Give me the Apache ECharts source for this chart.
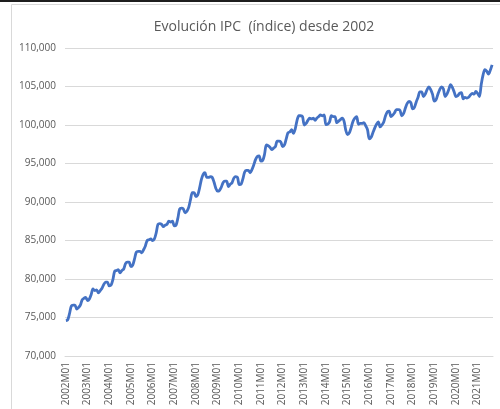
<!DOCTYPE html>
<html>
<head>
<meta charset="utf-8">
<title>Evolución IPC</title>
<script src="https://cdn.jsdelivr.net/npm/echarts@6/dist/echarts.min.js"></script>
<style>
  html, body { margin: 0; padding: 0; background: #fff; }
  #chart { width: 500px; height: 409px; }
</style>
</head>
<body>
<div id="chart"></div>
<script>
// IPC mensual (índice), un array por año
const ipc2002 = [74.6, 74.7, 75.5, 76.5, 76.6, 76.6, 76.1, 76.3, 76.6, 77.3, 77.5, 77.6]
const ipc2003 = [77.2, 77.4, 78.0, 78.7, 78.5, 78.6, 78.2, 78.5, 78.8, 79.3, 79.6, 79.6]
const ipc2004 = [79.1, 79.2, 79.9, 81.0, 81.1, 81.2, 80.8, 81.1, 81.3, 82.0, 82.2, 82.2]
const ipc2005 = [81.6, 81.8, 82.6, 83.5, 83.6, 83.6, 83.4, 83.8, 84.3, 85.0, 85.1, 85.2]
const ipc2006 = [85.0, 85.2, 86.0, 87.1, 87.2, 87.1, 86.8, 87.0, 87.1, 87.5, 87.4, 87.5]
const ipc2007 = [86.9, 87.0, 87.9, 89.1, 89.2, 89.1, 88.6, 88.8, 89.3, 90.3, 91.2, 91.2]
const ipc2008 = [90.7, 90.9, 91.8, 92.9, 93.6, 93.8, 93.2, 93.2, 93.3, 93.2, 92.6, 91.8]
const ipc2009 = [91.4, 91.5, 91.9, 92.5, 92.7, 92.7, 92.0, 92.3, 92.5, 93.1, 93.3, 93.2]
const ipc2010 = [92.25, 92.3, 93.0, 93.9, 94.1, 94.1, 93.8, 94.2, 94.8, 95.5, 95.9, 96.0]
const ipc2011 = [95.3, 95.4, 96.2, 97.4, 97.3, 97.1, 96.8, 97.0, 97.2, 97.9, 97.9, 97.8]
const ipc2012 = [97.2, 97.4, 98.2, 99.0, 99.1, 99.4, 98.9, 99.5, 100.6, 101.2, 101.2, 101.1]
const ipc2013 = [100.0, 100.2, 100.6, 100.9, 100.8, 100.9, 100.6, 100.9, 101.1, 101.3, 101.2, 101.3]
const ipc2014 = [100.05, 100.1, 100.4, 101.2, 101.1, 101.1, 100.3, 100.5, 100.7, 100.9, 100.5, 99.3]
const ipc2015 = [98.75, 99.0, 99.7, 100.5, 100.9, 101.1, 100.1, 100.2, 100.2, 100.3, 99.9, 99.4]
const ipc2016 = [98.2, 98.4, 99.0, 99.6, 100.1, 100.4, 99.75, 100.0, 100.4, 101.2, 101.7, 101.8]
const ipc2017 = [101.1, 101.3, 101.6, 102.0, 102.0, 101.9, 101.2, 101.5, 102.2, 102.8, 103.05, 102.9]
const ipc2018 = [102.1, 102.3, 103.0, 103.6, 104.3, 104.3, 103.7, 104.0, 104.6, 104.95, 104.6, 104.0]
const ipc2019 = [103.1, 103.3, 104.0, 104.6, 104.95, 104.7, 103.7, 104.0, 104.6, 105.25, 104.9, 104.3]
const ipc2020 = [103.7, 103.8, 104.1, 104.2, 103.4, 103.6, 103.5, 103.6, 103.9, 104.1, 104.0, 104.35]
const ipc2021 = [104.1, 103.7, 105.3, 106.5, 107.2, 107.0, 106.6, 107.1, 107.8]

const years = [2002, 2003, 2004, 2005, 2006, 2007, 2008, 2009, 2010, 2011,
  2012, 2013, 2014, 2015, 2016, 2017, 2018, 2019, 2020, 2021]
const yearValues = [ipc2002, ipc2003, ipc2004, ipc2005, ipc2006, ipc2007, ipc2008,
  ipc2009, ipc2010, ipc2011, ipc2012, ipc2013, ipc2014, ipc2015, ipc2016, ipc2017,
  ipc2018, ipc2019, ipc2020, ipc2021]

// categorías "2002M01" ... y valores en el mismo orden
const categories = []
const values = []
yearValues.forEach((arr, i) => {
  arr.forEach((v, m) => {
    categories.push(years[i] + 'M' + String(m + 1).padStart(2, '0'))
    values.push(v)
  })
})

const chart = echarts.init(document.getElementById('chart'))

const option = {
  animation: false,
  backgroundColor: '#fff',
  title: {
    text: 'Evolución IPC  (índice) desde 2002',
    left: 259,
    top: 15,
    textAlign: 'center',
    textStyle: {
      fontFamily: 'Open Sans',
      fontSize: 14,
      fontWeight: 'normal',
      color: '#595959'
    }
  },
  graphic: [
    { type: 'rect', shape: { x: 0, y: 0, width: 500, height: 2 }, style: { fill: '#1e1e1e' }, silent: true },
    { type: 'rect', shape: { x: 11.5, y: 4.5, width: 600, height: 600 }, style: { fill: 'none', stroke: '#d9d9d9', lineWidth: 1 }, silent: true }
  ],
  grid: {
    left: 65,
    right: 7,
    top: 48,
    bottom: 53
  },
  xAxis: {
    type: 'category',
    data: categories,
    boundaryGap: true,
    axisLine: { lineStyle: { color: '#d9d9d9' } },
    axisTick: { show: false },
    axisLabel: {
      interval: (idx) => idx % 12 === 0,
      rotate: 90,
      margin: 6,
      fontFamily: 'Open Sans',
      fontSize: 10,
      color: '#595959'
    }
  },
  yAxis: {
    type: 'value',
    min: 70,
    max: 110,
    interval: 5,
    axisLine: { show: false },
    axisTick: { show: false },
    splitLine: { lineStyle: { color: '#d9d9d9' } },
    axisLabel: {
      margin: 9,
      fontFamily: 'Open Sans',
      fontSize: 10,
      color: '#595959',
      formatter: (v) => v.toFixed(3).replace('.', ',')
    }
  },
  series: [
    {
      name: 'IPC',
      type: 'line',
      data: values,
      smooth: 0.3,
      showSymbol: false,
      lineStyle: { width: 2.8, color: '#4472c4' },
      itemStyle: { color: '#4472c4' }
    }
  ]
}

chart.setOption(option)
</script>
</body>
</html>
